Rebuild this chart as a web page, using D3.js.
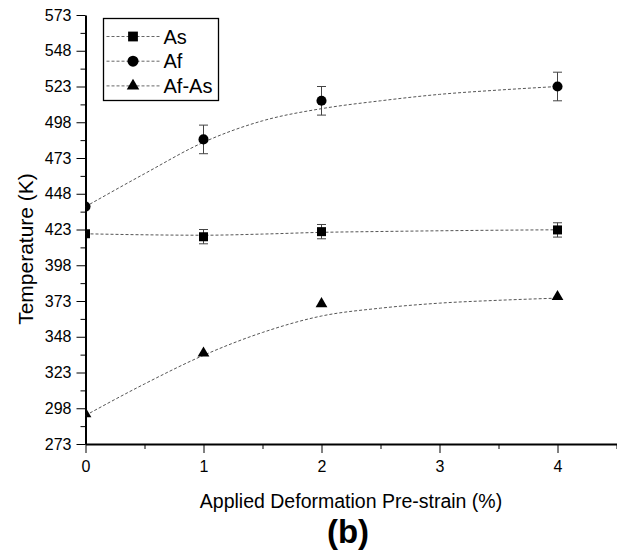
<!DOCTYPE html>
<html>
<head>
<meta charset="utf-8">
<script src="https://cdn.jsdelivr.net/npm/d3@7"></script>
<style>
  body { margin: 0; background: #fff; }
  svg { font-family: "Liberation Sans", Arial, sans-serif; }
  .axis path, .axis line { stroke: #000; }
  .axis text { font-size: 16px; fill: #000; font-family: "Liberation Sans", Arial, sans-serif; }
</style>
</head>
<body>
<div id="chart"></div>
<script>
// data
const strain = [0, 1, 2, 4];
const asTemp = [420, 418, 421.5, 422.7];
const asErr = [0, 5, 5, 5];
const afTemp = [439, 486, 513, 523];
const afErr = [0, 10, 10, 10];
const afAsTemp = [294, 336.5, 371, 376];

// fitted dashed curves
const fitX = [0, 0.5, 1, 1.5, 2, 2.5, 3, 3.5, 4];
const asFit = [420, 419.3, 419, 419.8, 421, 421.6, 422.1, 422.5, 422.8];
const afFit = [439, 462, 484, 499, 507.5, 513, 517.5, 520.5, 523];
const afAsFit = [293, 315, 335, 351, 362.5, 368, 371.5, 373.5, 375];

const yTicks = [273, 298, 323, 348, 373, 398, 423, 448, 473, 498, 523, 548, 573];
const xTicks = [0, 1, 2, 3, 4];
const seriesNames = ['As', 'Af', 'Af-As'];

const W = 617, H = 552;
const margin = { top: 15, left: 85.5, right: 0.5, bottom: 108 };
const width = W - margin.left - margin.right;
const height = H - margin.top - margin.bottom;

const svg = d3.select('#chart').append('svg')
    .attr('width', W)
    .attr('height', H);

const x = d3.scaleLinear().domain([0, 4.5]).range([0, width]);
const y = d3.scaleLinear().domain([273, 573]).range([height, 0]);

const g = svg.append('g')
    .attr('transform', `translate(${margin.left},${margin.top})`);

svg.append('clipPath').attr('id', 'plot')
  .append('rect')
    .attr('x', margin.left).attr('y', 0)
    .attr('width', width + 5).attr('height', H);

// minor ticks
const yMinor = d3.range(273 + 12.5, 573, 25);
const xMinor = d3.range(0.5, 4.6, 1);

g.append('g').attr('class', 'axis')
    .call(d3.axisLeft(y).tickValues(yMinor).tickSize(5).tickFormat(''))
    .call(s => s.select('.domain').remove());
g.append('g').attr('class', 'axis')
    .attr('transform', `translate(0,${height})`)
    .call(d3.axisBottom(x).tickValues(xMinor).tickSize(5).tickFormat(''))
    .call(s => s.select('.domain').remove());

const yAxis = g.append('g').attr('class', 'axis')
    .call(d3.axisLeft(y).tickValues(yTicks).tickSize(9).tickSizeOuter(0).tickPadding(5));
yAxis.select('.domain').attr('stroke-width', 2);

const xAxis = g.append('g').attr('class', 'axis')
    .attr('transform', `translate(0,${height})`)
    .call(d3.axisBottom(x).tickValues(xTicks).tickFormat(d3.format('d'))
      .tickSize(9).tickSizeOuter(0).tickPadding(8));
xAxis.select('.domain').attr('stroke-width', 2);

// fit lines
const line = d3.line()
    .x((d, i) => x(fitX[i]))
    .y(d => y(d))
    .curve(d3.curveMonotoneX);

const plot = g.append('g').attr('clip-path', 'url(#plot)')
    .attr('transform', `translate(${-margin.left},${-margin.top})`)
  .append('g')
    .attr('transform', `translate(${margin.left},${margin.top})`);

[asFit, afFit, afAsFit].forEach(f => {
  plot.append('path')
      .attr('d', line(f))
      .attr('fill', 'none')
      .attr('stroke', '#555')
      .attr('stroke-width', 1)
      .attr('stroke-dasharray', '3,2');
});

// error bars
function errorBars(vals, errs) {
  strain.forEach((s, i) => {
    if (!errs[i]) return;
    const eg = plot.append('g').attr('stroke', '#444').attr('stroke-width', 1);
    eg.append('line')
        .attr('x1', x(s)).attr('x2', x(s))
        .attr('y1', y(vals[i] - errs[i])).attr('y2', y(vals[i] + errs[i]));
    [vals[i] - errs[i], vals[i] + errs[i]].forEach(v => {
      eg.append('line')
          .attr('x1', x(s) - 4.5).attr('x2', x(s) + 4.5)
          .attr('y1', y(v)).attr('y2', y(v));
    });
  });
}
errorBars(asTemp, asErr);
errorBars(afTemp, afErr);

const symbols = [d3.symbolSquare, d3.symbolCircle, d3.symbolTriangle];
const sizes = [81, 80, 60];

[asTemp, afTemp, afAsTemp].forEach((vals, k) => {
  plot.selectAll(null)
      .data(vals)
      .enter()
      .append('path')
      .attr('transform', (d, i) => `translate(${x(strain[i])},${y(d)})`)
      .attr('d', d3.symbol().type(symbols[k]).size(sizes[k]))
      .attr('fill', '#000');
});

// legend
const legend = svg.append('g').attr('transform', 'translate(103.5,18.5)');
legend.append('rect')
    .attr('width', 115).attr('height', 82)
    .attr('fill', '#fff').attr('stroke', '#000').attr('stroke-width', 1.3);
seriesNames.forEach((name, k) => {
  const ly = 18 + k * 24.7;
  legend.append('line')
      .attr('x1', 3).attr('x2', 56.5).attr('y1', ly).attr('y2', ly)
      .attr('stroke', '#666').attr('stroke-dasharray', '3,2');
  legend.append('path')
      .attr('transform', `translate(29.5,${ly})`)
      .attr('d', d3.symbol().type(symbols[k]).size(k === 2 ? 68 : 96))
      .attr('fill', '#000');
  legend.append('text')
      .attr('x', 60).attr('y', ly + 7)
      .attr('font-size', 20)
      .text(name);
});

// titles
svg.append('text')
    .attr('transform', 'translate(33,249) rotate(-90)')
    .attr('text-anchor', 'middle')
    .attr('font-size', 21)
    .text('Temperature (K)');

svg.append('text')
    .attr('x', 351).attr('y', 508)
    .attr('text-anchor', 'middle')
    .attr('font-size', 19.5)
    .text('Applied Deformation Pre-strain (%)');

svg.append('text')
    .attr('x', 348).attr('y', 543)
    .attr('text-anchor', 'middle')
    .attr('font-size', 33)
    .attr('font-weight', 'bold')
    .text('(b)');
</script>
</body>
</html>
